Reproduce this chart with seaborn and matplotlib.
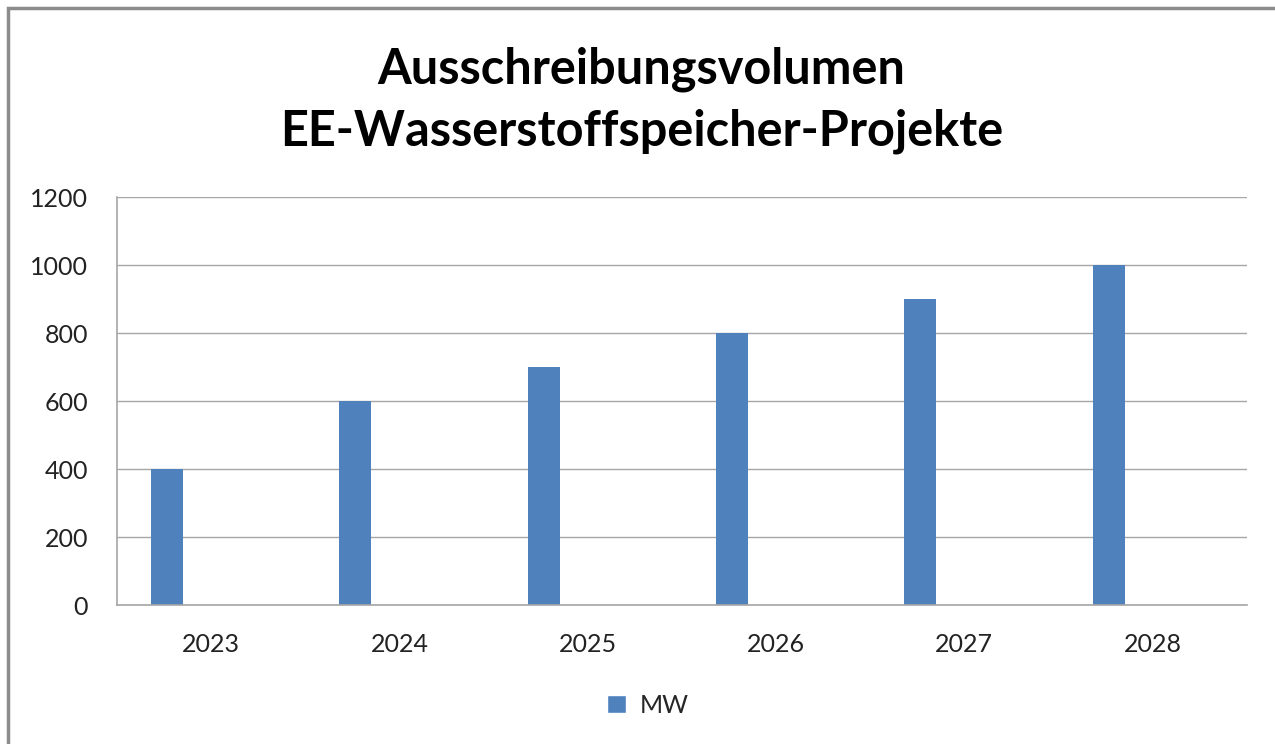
import pandas as pd
import seaborn as sns
import matplotlib.pyplot as plt
from matplotlib.patches import Patch, Rectangle

years = ['2023', '2024', '2025', '2026', '2027', '2028']
mw = [400, 600, 700, 800, 900, 1000]
yticks = [0, 200, 400, 600, 800, 1000, 1200]

# Excel-style clustered column: a second, empty series keeps the MW bar left of centre
df = pd.DataFrame({
    'Jahr': years * 2,
    'Wert': mw + [0] * len(years),
    'Serie': ['MW'] * len(years) + ['leer'] * len(years),
})

sns.set_style('white')
plt.rcParams['font.family'] = ['Lato', 'DejaVu Sans']

fig = plt.figure(figsize=(12.75, 7.44), dpi=100)
ax = fig.add_axes([0.0918, 0.1868, 0.886, 0.5484])

bar_color = '#4F81BD'
sns.barplot(data=df, x='Jahr', y='Wert', hue='Serie', hue_order=['MW', 'leer'],
            palette=[bar_color, 'white'], saturation=1, width=0.934, gap=0.636,
            linewidth=0, legend=False, ax=ax)

ax.set_ylim(0, 1200)
ax.set_yticks(yticks)
ax.set_xlim(-0.5, len(years) - 0.5)
ax.yaxis.grid(True, color='#A6A6A6', linewidth=1)
ax.set_axisbelow(True)
ax.set_xlabel('')
ax.set_ylabel('')
ax.tick_params(axis='y', length=0, pad=21, labelsize=18, labelcolor='#222222')
ax.tick_params(axis='x', length=0, pad=20, labelsize=18, labelcolor='#222222')

for side in ['top', 'right']:
    ax.spines[side].set_visible(False)
for side in ['left', 'bottom']:
    ax.spines[side].set_color('#A6A6A6')
    ax.spines[side].set_linewidth(1.2)

fig.text(0.503, 0.865, 'Ausschreibungsvolumen\nEE-Wasserstoffspeicher-Projekte',
         ha='center', va='center', fontsize=35, fontweight='bold',
         linespacing=1.45, color='black')

fig.legend(handles=[Patch(facecolor=bar_color, label='MW')], loc='center',
           bbox_to_anchor=(0.508, 0.052), frameon=False, fontsize=18,
           handlelength=0.75, handleheight=0.75, handletextpad=0.55)

# outer chart frame (cut off on the right and bottom)
fig.patches.append(Rectangle((8 / 1275, -0.1), 1.2, 1 - 8 / 744 + 0.1,
                             transform=fig.transFigure, fill=False,
                             edgecolor='#8C8C8C', linewidth=2.5))

plt.savefig('out.png', dpi=100)
